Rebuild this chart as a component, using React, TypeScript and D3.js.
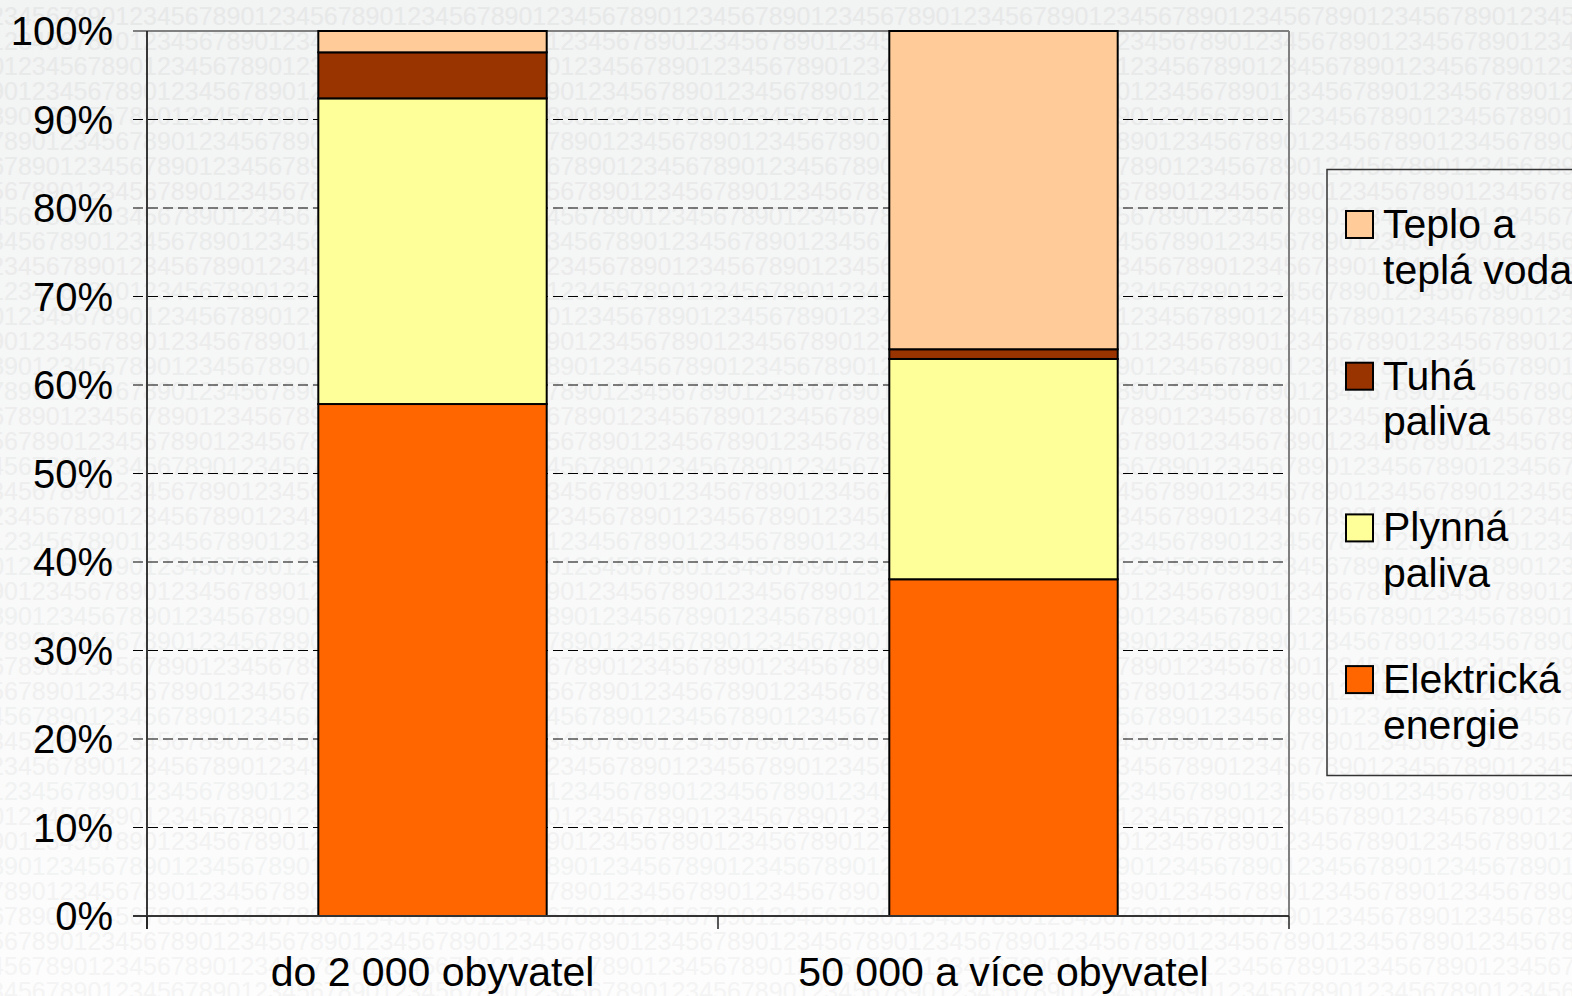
import React from "react";
import * as d3 from "d3";

const categories = ["do 2 000 obyvatel", "50 000 a více obyvatel"];
const seriesKeys = ["elektricka", "plynna", "tuha", "teplo"];
const elektricka = [57.85, 38.05];
const plynna = [34.54, 24.89];
const tuha = [5.2, 1.1];
const teplo = [2.41, 35.96];
const seriesColors = ["#FF6600", "#FFFF99", "#993300", "#FFCC99"];
const legendLabels = [
  ["Teplo a", "teplá voda"],
  ["Tuhá", "paliva"],
  ["Plynná", "paliva"],
  ["Elektrická", "energie"],
];
const legendColors = ["#FFCC99", "#993300", "#FFFF99", "#FF6600"];
const yTicks = [0, 10, 20, 30, 40, 50, 60, 70, 80, 90, 100];

const W = 1572;
const H = 996;
const M = { left: 147, right: 1289, top: 31, bottom: 916 };
const FONT = "'Liberation Sans', Arial, Helvetica, sans-serif";

export default function App() {
  const table = categories.map((c, i) => ({
    cat: c,
    elektricka: elektricka[i],
    plynna: plynna[i],
    tuha: tuha[i],
    teplo: teplo[i],
  }));
  const stacked = d3.stack<any>().keys(seriesKeys)(table);

  const x = d3.scaleBand().domain(categories).range([M.left, M.right]).paddingInner(0).paddingOuter(0);
  const y = d3.scaleLinear().domain([0, 100]).range([M.bottom, M.top]);
  const barW = x.bandwidth() * 0.4;

  // watermark rows
  const charW = 13.9;
  const period = charW * 10;
  const rowStr = "1234567890".repeat(14);
  const rows = d3.range(0, 41).map((k) => {
    let o = -23.8 + (k - 1) * charW;
    o = ((o % period) + period) % period - period;
    const t = k / 40;
    const col = d3.interpolateRgb("#e7e8e8", "#f4f4f4")(t);
    return { y: 25 * k, x: o, col };
  });

  return (
    <svg
      width={W}
      height={H}
      style={{ position: "absolute", left: 0, top: 0, display: "block" }}
      fontFamily={FONT}
    >
      <defs>
        <linearGradient id="bg" x1="0" y1="0" x2="0" y2="1">
          <stop offset="0" stopColor="#f2f3f3" />
          <stop offset="1" stopColor="#fdfdfd" />
        </linearGradient>
      </defs>
      <rect x={0} y={0} width={W} height={H} fill="url(#bg)" />
      <g>
        {rows.map((r, i) => (
          <text key={i} x={r.x} y={r.y} fontSize={25} fill={r.col} style={{ whiteSpace: "pre" }}>
            {rowStr}
          </text>
        ))}
      </g>

      {/* gridlines */}
      {yTicks.filter((t) => t > 0 && t < 100).map((t) => (
        <line
          key={t}
          x1={M.left - 14}
          x2={M.right}
          y1={y(t)}
          y2={y(t)}
          stroke="#000"
          strokeWidth={1.2}
          strokeDasharray="10,5"
        />
      ))}
      {/* top border */}
      <line x1={M.left - 14} x2={M.right} y1={y(100)} y2={y(100)} stroke="#808080" strokeWidth={2} />
      {/* right border */}
      <line x1={M.right} x2={M.right} y1={y(100)} y2={y(0)} stroke="#808080" strokeWidth={2} />

      {/* bars */}
      {stacked.map((s, si) =>
        s.map((d, di) => {
          const cat = categories[di];
          const x0 = (x(cat) as number) + (x.bandwidth() - barW) / 2;
          return (
            <rect
              key={si + "-" + di}
              x={x0}
              y={y(d[1])}
              width={barW}
              height={y(d[0]) - y(d[1])}
              fill={seriesColors[si]}
              stroke="#000"
              strokeWidth={2}
            />
          );
        })
      )}

      {/* axes */}
      <line x1={M.left} x2={M.left} y1={y(100)} y2={M.bottom + 13} stroke="#222" strokeWidth={1.8} />
      <line x1={M.left - 14} x2={M.right} y1={y(0)} y2={y(0)} stroke="#333" strokeWidth={1.8} />
      {[M.left, M.left + x.bandwidth(), M.right].map((tx, i) => (
        <line key={i} x1={tx} x2={tx} y1={y(0)} y2={y(0) + 13} stroke="#222" strokeWidth={1.5} />
      ))}

      {yTicks.map((t) => (
        <text
          key={t}
          x={113}
          y={y(t)}
          fontSize={40}
          textAnchor="end"
          dominantBaseline="central"
          fill="#000"
        >
          {t + "%"}
        </text>
      ))}
      {categories.map((c) => (
        <text
          key={c}
          x={(x(c) as number) + x.bandwidth() / 2}
          y={986}
          fontSize={41}
          textAnchor="middle"
          fill="#000"
        >
          {c}
        </text>
      ))}

      {/* legend */}
      <rect x={1327} y={169.5} width={300} height={606} fill="none" stroke="#333" strokeWidth={1.5} />
      {legendLabels.map((lines, i) => {
        const sy = 211 + i * 151.7;
        return (
          <g key={i}>
            <rect x={1346} y={sy} width={27} height={27} fill={legendColors[i]} stroke="#000" strokeWidth={2} />
            {lines.map((ln, j) => (
              <text key={j} x={1383} y={sy + 27 + j * 45.5} fontSize={41} fill="#000">
                {ln}
              </text>
            ))}
          </g>
        );
      })}
    </svg>
  );
}
